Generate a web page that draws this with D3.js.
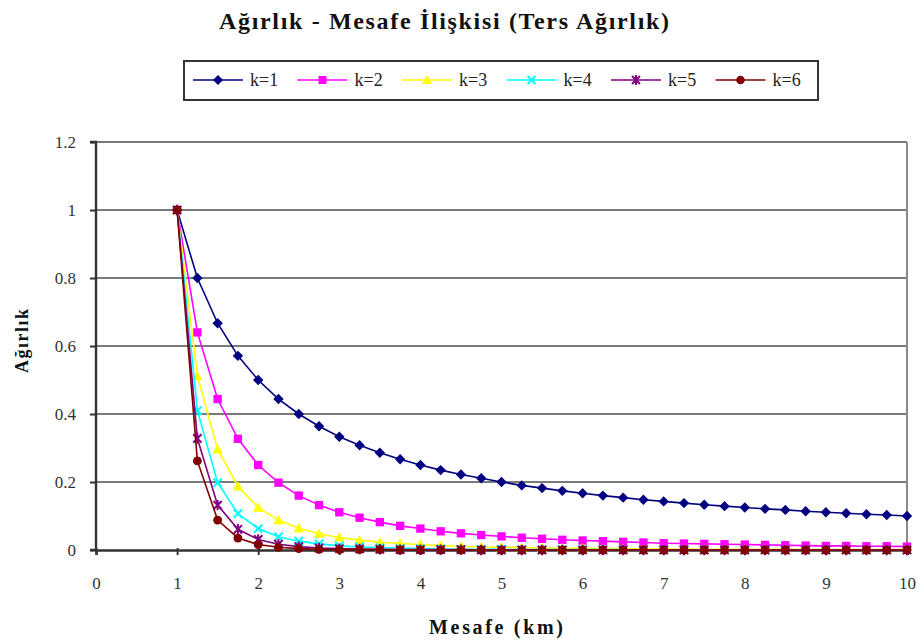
<!DOCTYPE html>
<html><head><meta charset="utf-8">
<script src="https://cdn.jsdelivr.net/npm/d3@7"></script>
<style>body{margin:0;background:#fff}svg{display:block}svg text{font-family:"Liberation Serif","Tinos","Times New Roman","DejaVu Serif",serif}</style>
</head><body>
<svg id="c" width="924" height="643"></svg>
<script>
const distances = [1,1.25,1.5,1.75,2,2.25,2.5,2.75,3,3.25,3.5,3.75,4,4.25,4.5,4.75,5,5.25,5.5,5.75,6,6.25,6.5,6.75,7,7.25,7.5,7.75,8,8.25,8.5,8.75,9,9.25,9.5,9.75,10];
const k1 = [1,0.8,0.667,0.571,0.5,0.444,0.4,0.364,0.333,0.308,0.286,0.267,0.25,0.235,0.222,0.211,0.2,0.19,0.182,0.174,0.167,0.16,0.154,0.148,0.143,0.138,0.133,0.129,0.125,0.121,0.118,0.114,0.111,0.108,0.105,0.103,0.1];
const k2 = [1,0.64,0.444,0.327,0.25,0.198,0.16,0.132,0.111,0.095,0.082,0.071,0.063,0.055,0.049,0.044,0.04,0.036,0.033,0.03,0.028,0.026,0.024,0.022,0.02,0.019,0.018,0.017,0.016,0.015,0.014,0.013,0.012,0.012,0.011,0.011,0.01];
const k3 = [1,0.512,0.296,0.187,0.125,0.088,0.064,0.048,0.037,0.029,0.023,0.019,0.016,0.013,0.011,0.009,0.008,0.007,0.006,0.005,0.005,0.004,0.004,0.003,0.003,0.003,0.002,0.002,0.002,0.002,0.002,0.001,0.001,0.001,0.001,0.001,0.001];
const k4 = [1,0.41,0.198,0.107,0.063,0.039,0.026,0.018,0.012,0.009,0.007,0.005,0.004,0.003,0.002,0.002,0.002,0.001,0.001,0.001,0.001,0.001,0.001,0,0,0,0,0,0,0,0,0,0,0,0,0,0];
const k5 = [1,0.328,0.132,0.061,0.031,0.017,0.01,0.006,0.004,0.003,0.002,0.001,0.001,0.001,0.001,0,0,0,0,0,0,0,0,0,0,0,0,0,0,0,0,0,0,0,0,0,0];
const k6 = [1,0.262,0.088,0.035,0.016,0.008,0.004,0.002,0.001,0.001,0.001,0,0,0,0,0,0,0,0,0,0,0,0,0,0,0,0,0,0,0,0,0,0,0,0,0,0];
const seriesNames = ["k=1","k=2","k=3","k=4","k=5","k=6"];
const seriesValues = [k1,k2,k3,k4,k5,k6];
const xTicks = [0,1,2,3,4,5,6,7,8,9,10];
const yTicks = [0,0.2,0.4,0.6,0.8,1,1.2];
const titleText = "Ağırlık - Mesafe İlişkisi (Ters Ağırlık)";
const xTitle = "Mesafe (km)";
const yTitle = "Ağırlık";

const colors = ["#000080","#ff00ff","#ffff00","#00ffff","#800080","#800000"];
const shapes = ["diamond","square","triangle","x","star","circle"];

const svg = d3.select("#c");
const L=96,R=907,T=142,B=550;
const x = d3.scaleLinear().domain([0,10]).range([L,R]);
const y = d3.scaleLinear().domain([0,1.2]).range([B,T]);

// title
svg.append("text").attr("x",444).attr("y",29).attr("text-anchor","middle")
  .style("font-weight","bold").style("font-size","24px")
  .attr("textLength",450).attr("lengthAdjust","spacing").attr("fill","#111").text(titleText);

// gridlines
svg.append("g").selectAll("line").data(yTicks.filter(d=>d>0)).join("line")
  .attr("x1",L).attr("x2",R).attr("y1",d=>y(d)).attr("y2",d=>y(d))
  .attr("stroke","#7a7a7a").attr("stroke-width",2.2);
// right border
svg.append("line").attr("x1",R).attr("x2",R).attr("y1",T).attr("y2",B)
  .attr("stroke","#8a8a8a").attr("stroke-width",2);

// axes
const yAxis = d3.axisLeft(y).tickValues(yTicks).tickSize(6).tickPadding(14).tickFormat(d3.format("~g"));
const gy = svg.append("g").attr("transform",`translate(${L},0)`).call(yAxis);
const xAxis = d3.axisBottom(x).tickValues(xTicks).tickSize(5).tickPadding(22).tickFormat(d3.format("~g"));
const gx = svg.append("g").attr("transform",`translate(0,${B})`).call(xAxis);
[gx,gy].forEach(g=>{
  g.attr("font-family",null);
  g.select(".domain").attr("stroke","#333").attr("stroke-width",2.4);
  g.selectAll(".tick line").attr("stroke","#333").attr("stroke-width",2);
  g.selectAll(".tick text").style("font-size","17px").attr("fill","#333");
});
gy.select(".domain").attr("d",`M-6,${T}H0V${B}H-6`);
gx.selectAll(".tick line").attr("y1",-2);

// axis titles
svg.append("text").attr("x",496).attr("y",634).attr("text-anchor","middle")
  .style("font-weight","bold").style("font-size","20px")
  .attr("textLength",134).attr("lengthAdjust","spacing").attr("fill","#111").text(xTitle);
svg.append("text").attr("transform","translate(28,341) rotate(-90)").attr("text-anchor","middle")
  .style("font-weight","bold").style("font-size","18px")
  .attr("textLength",64).attr("lengthAdjust","spacing").attr("fill","#111").text(yTitle);

function marker(g, shape, color, size){
  const s=size;
  if(shape==="diamond") g.append("path").attr("d",`M0,${-s}L${s},0L0,${s}L${-s},0Z`).attr("fill",color);
  else if(shape==="square") g.append("rect").attr("x",-s*0.8).attr("y",-s*0.8).attr("width",s*1.6).attr("height",s*1.6).attr("fill",color);
  else if(shape==="triangle") g.append("path").attr("d",`M0,${-s}L${s},${s*0.8}L${-s},${s*0.8}Z`).attr("fill",color);
  else if(shape==="x") g.append("path").attr("d",`M${-s*0.8},${-s*0.8}L${s*0.8},${s*0.8}M${-s*0.8},${s*0.8}L${s*0.8},${-s*0.8}`).attr("stroke",color).attr("stroke-width",2).attr("fill","none");
  else if(shape==="star") g.append("path").attr("d",`M${-s*0.8},${-s*0.8}L${s*0.8},${s*0.8}M${-s*0.8},${s*0.8}L${s*0.8},${-s*0.8}M0,${-s}L0,${s}`).attr("stroke",color).attr("stroke-width",2).attr("fill","none");
  else if(shape==="circle") g.append("circle").attr("r",s*0.85).attr("fill",color);
}

const line = d3.line().x((d,i)=>x(distances[i])).y(d=>y(d));
const plot = svg.append("g");
seriesValues.forEach((vals,si)=>{
  const g = plot.append("g");
  g.append("path").datum(vals).attr("d",line).attr("fill","none")
    .attr("stroke",colors[si]).attr("stroke-width",1.6);
  vals.forEach((v,i)=>{
    const m = g.append("g").attr("transform",`translate(${x(distances[i])},${y(v)})`);
    marker(m, shapes[si], colors[si], 5.2);
  });
});

// legend
const lg = svg.append("g");
lg.append("rect").attr("x",184).attr("y",61).attr("width",634).attr("height",39)
  .attr("fill","#fff").attr("stroke","#333").attr("stroke-width",2);
seriesNames.forEach((name,i)=>{
  const x0 = 193 + i*104.5;
  const g = lg.append("g").attr("transform",`translate(${x0},80)`);
  g.append("line").attr("x1",0).attr("x2",50).attr("stroke",colors[i]).attr("stroke-width",1.6);
  const m = g.append("g").attr("transform","translate(25,0)");
  marker(m, shapes[i], colors[i], 5);
  g.append("text").attr("x",57).attr("y",6).style("font-size","18px")
    .attr("fill","#222").text(name);
});
</script>
</body></html>
